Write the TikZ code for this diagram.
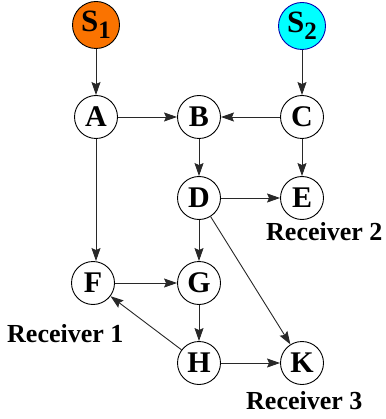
\documentclass[tikz,border=0pt]{standalone}
\usepackage{fontspec}
\setmainfont{Liberation Serif}
\usetikzlibrary{arrows.meta}
\definecolor{srcorange}{RGB}{250,115,0}
\definecolor{srccyan}{RGB}{0,255,255}
\definecolor{edgegray}{RGB}{40,40,40}
\tikzset{
  vnode/.style={circle,draw=black,line width=0.9pt,fill=white,minimum size=43pt,inner sep=0pt,
    font=\fontsize{30}{30}\selectfont\bfseries},
  snode/.style={vnode,minimum size=47pt,font=\fontsize{31}{31}\selectfont\bfseries},
  edge/.style={draw=edgegray,line width=0.9pt,-{Stealth[length=13pt,width=9pt,inset=2pt]}},
  rlabel/.style={font=\fontsize{26}{26}\selectfont\bfseries,inner sep=0pt},
}
\newcommand{\subnum}[1]{\raisebox{-0.22em}{\fontsize{25}{25}\selectfont #1}}
\begin{document}
\begin{tikzpicture}[x=1pt,y=-1pt]
\useasboundingbox (0,0) rectangle (385,419);
\node[snode,fill=srcorange] (S1) at (96,25) {S\subnum{1}};
\node[snode,fill=srccyan,draw=blue!70!black] (S2) at (302,26) {S\subnum{2}};
\node[vnode] (A) at (96,117) {A};
\node[vnode] (B) at (199,117) {B};
\node[vnode] (C) at (302,117) {C};
\node[vnode] (D) at (199,198) {D};
\node[vnode] (E) at (302,198) {E};
\node[vnode] (F) at (93,283) {F};
\node[vnode] (G) at (199,283) {G};
\node[vnode] (H) at (199,363) {H};
\node[vnode] (K) at (302,363) {K};
\node[rlabel,anchor=west] (R2) at (266,232) {Receiver 2};
\node[rlabel,anchor=west] (R1) at (7,334) {Receiver 1};
\node[rlabel,anchor=west] (R3) at (246,401) {Receiver 3};
\draw[edge] (S1) -- (A);
\draw[edge] (S2) -- (C);
\draw[edge] (A) -- (B);
\draw[edge] (C) -- (B);
\draw[edge] (B) -- (D);
\draw[edge] (C) -- (E);
\draw[edge] (D) -- (E);
\draw[edge] (A) -- (A|-F.north);
\draw[edge] (D) -- (G);
\draw[edge] (D) -- (K);
\draw[edge] (F) -- (G);
\draw[edge] (G) -- (H);
\draw[edge] (H) -- (F);
\draw[edge] (H) -- (K);
\end{tikzpicture}
\end{document}
